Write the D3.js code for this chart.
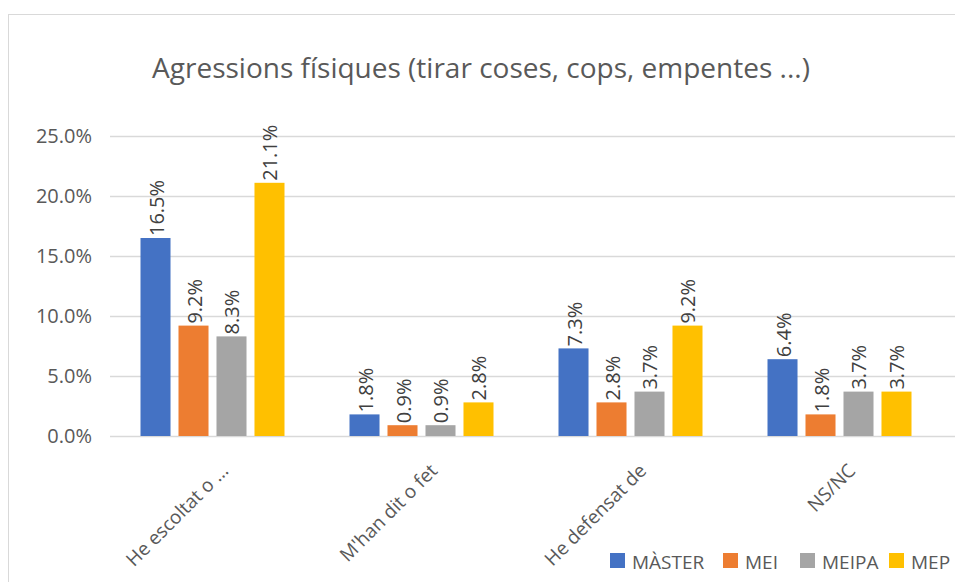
<!DOCTYPE html>
<html>
<head>
<meta charset="utf-8">
<script src="https://cdn.jsdelivr.net/npm/d3@7"></script>
<style>
  body { margin: 0; background: #fff; }
  text { font-family: "Open Sans", sans-serif; }
</style>
</head>
<body>
<script>
// dades del grafic
var categories = ["He escoltat o ...", "M'han dit o fet", "He defensat de", "NS/NC"];
var series = ["MÀSTER", "MEI", "MEIPA", "MEP"];
var colors = ["#4472c4", "#ed7d31", "#a5a5a5", "#ffc000"];
var values = [
  [16.5, 9.2, 8.3, 21.1],   // He escoltat o ...
  [1.8, 0.9, 0.9, 2.8],     // M'han dit o fet
  [7.3, 2.8, 3.7, 9.2],     // He defensat de
  [6.4, 1.8, 3.7, 3.7]      // NS/NC
];
var yTicks = [0, 5, 10, 15, 20, 25];

var width = 955, height = 582;
var plot = {left: 108, right: 944, top: 136, bottom: 436};

var svg = d3.select("body").append("svg")
    .attr("width", width)
    .attr("height", height);

// vora del grafic
svg.append("rect")
    .attr("x", 8.5).attr("y", 14.5)
    .attr("width", 970).attr("height", 600)
    .attr("fill", "#fff")
    .attr("stroke", "#d9d9d9");

var x = d3.scaleBand().domain(categories).range([plot.left, plot.right]);
var x1 = d3.scaleBand().domain(series).range([32.5, 176.5]).paddingInner(0.21);
var y = d3.scaleLinear().domain([0, 25]).range([plot.bottom, plot.top]);

// titol
svg.append("text")
    .attr("x", 481).attr("y", 78)
    .attr("text-anchor", "middle")
    .style("font-size", "28px")
    .attr("fill", "#595959")
    .text("Agressions físiques (tirar coses, cops, empentes ...)");

// linies de graella
svg.append("g")
    .selectAll("line")
    .data(yTicks)
    .enter().append("line")
    .attr("x1", 110).attr("x2", 955)
    .attr("y1", function(d) { return y(d) + 0.5; })
    .attr("y2", function(d) { return y(d) + 0.5; })
    .attr("stroke", "#d9d9d9")
    .attr("stroke-width", 1.5);

// eix y
var yAxis = svg.append("g")
    .attr("transform", "translate(92,0)")
    .call(d3.axisLeft(y).tickValues(yTicks).tickSize(0).tickPadding(0)
      .tickFormat(function(d) { return d.toFixed(1) + "%"; }));
yAxis.select(".domain").remove();
yAxis.selectAll("text")
    .style("font-size", "20px")
    .style("font-family", "'Open Sans', sans-serif")
    .attr("fill", "#595959");

// barres
var groups = svg.append("g")
    .selectAll("g")
    .data(values)
    .enter().append("g")
    .attr("transform", function(d, i) { return "translate(" + x(categories[i]) + ",0)"; });

groups.selectAll("rect")
    .data(function(d) { return d.map(function(v, j) { return {key: series[j], value: v, c: colors[j]}; }); })
    .enter().append("rect")
    .attr("x", function(d) { return x1(d.key); })
    .attr("y", function(d) { return y(d.value); })
    .attr("width", x1.bandwidth())
    .attr("height", function(d) { return y(0) - y(d.value); })
    .attr("fill", function(d) { return d.c; });

// etiquetes de dades (verticals)
groups.selectAll("text")
    .data(function(d) { return d.map(function(v, j) { return {key: series[j], value: v}; }); })
    .enter().append("text")
    .attr("transform", function(d) {
      return "translate(" + (x1(d.key) + x1.bandwidth() / 2 + 8) + "," + (y(d.value) - 2) + ") rotate(-90)";
    })
    .style("font-size", "20px")
    .attr("fill", "#404040")
    .text(function(d) { return d.value.toFixed(1) + "%"; });

// etiquetes de categoria (inclinades)
svg.append("g")
    .selectAll("text")
    .data(categories)
    .enter().append("text")
    .attr("transform", function(d) {
      return "translate(" + (x(d) + x.bandwidth() / 2 + 17) + ",472) rotate(-45)";
    })
    .attr("text-anchor", "end")
    .style("font-size", "19px")
    .attr("fill", "#595959")
    .text(function(d) { return d; });

// llegenda
var legendX = [610, 723, 800, 889];
var legend = svg.append("g")
    .selectAll("g")
    .data(series)
    .enter().append("g")
    .attr("transform", function(d, i) { return "translate(" + legendX[i] + ",553)"; });
legend.append("rect")
    .attr("width", 15).attr("height", 15)
    .attr("fill", function(d, i) { return colors[i]; });
legend.append("text")
    .attr("x", 22).attr("y", 16)
    .style("font-size", "19px")
    .attr("fill", "#595959")
    .text(function(d) { return d; });
</script>
</body>
</html>
